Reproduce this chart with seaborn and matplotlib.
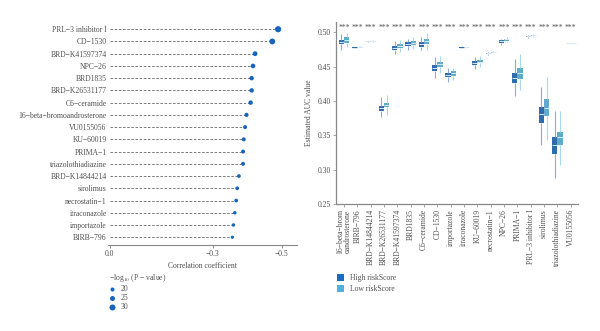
import numpy as np
import pandas as pd
import matplotlib
matplotlib.use("Agg")
import matplotlib.pyplot as plt
import seaborn as sns
from matplotlib.lines import Line2D
from matplotlib.patches import Patch

# ---------------- Left panel data ----------------
drugs_left = ["PRL\u22123 inhibitor I", "CD\u22121530", "BRD\u2212K41597374", "NPC\u221226",
              "BRD1835", "BRD\u2212K26531177", "C6\u2212ceramide", "16\u2212beta\u2212bromoandrosterone",
              "VU0155056", "KU\u221260019", "PRIMA\u22121", "triazolothiadiazine",
              "BRD\u2212K14844214", "sirolimus", "necrostatin\u22121", "itraconazole",
              "importazole", "BIRB\u2212796"]
corr = [-0.490, -0.473, -0.423, -0.417, -0.413, -0.413, -0.410, -0.398,
        -0.394, -0.390, -0.388, -0.388, -0.376, -0.371, -0.368, -0.364, -0.360, -0.357]
logp = [31, 29, 23, 22, 21, 21, 21, 20, 19, 19, 19, 19, 18, 18, 18, 17, 17, 16]
size_legend = [20, 25, 30]

# ---------------- Right panel data ----------------
drugs_right = ["16\u2212beta\u2212brom\noandrosterone", "BIRB\u2212796", "BRD\u2212K14844214",
               "BRD\u2212K26531177", "BRD\u2212K41597374", "BRD1835", "C6\u2212ceramide",
               "CD\u22121530", "importazole", "itraconazole", "KU\u221260019", "necrostatin\u22121",
               "NPC\u221226", "PRIMA\u22121", "PRL\u22123 inhibitor I", "sirolimus",
               "triazolothiadiazine", "VU0155056"]
groups = ["High riskScore", "Low riskScore"]
# five-number summaries: [min, q1, median, q3, max]
high_stats = [
    [0.474, 0.4826, 0.4855, 0.4888, 0.497],
    [0.4765, 0.4770, 0.4776, 0.4782, 0.479],
    [0.4860, 0.4865, 0.4869, 0.4873, 0.4878],
    [0.3765, 0.3855, 0.3895, 0.3927, 0.4064],
    [0.468, 0.4743, 0.4774, 0.4801, 0.4864],
    [0.474, 0.4797, 0.4826, 0.4855, 0.4904],
    [0.4733, 0.479, 0.4826, 0.4855, 0.4927],
    [0.434, 0.4442, 0.448, 0.4525, 0.4636],
    [0.4273, 0.4346, 0.4374, 0.4404, 0.4477],
    [0.4768, 0.4772, 0.4776, 0.4780, 0.4784],
    [0.446, 0.4525, 0.4554, 0.4583, 0.4636],
    [0.4670, 0.4682, 0.4690, 0.4698, 0.4710],
    [0.4820, 0.4845, 0.4864, 0.4884, 0.4905],
    [0.4074, 0.4259, 0.4331, 0.4413, 0.4608],
    [0.4920, 0.4932, 0.4940, 0.4948, 0.4960],
    [0.336, 0.3686, 0.3808, 0.3919, 0.420],
    [0.2887, 0.3231, 0.3362, 0.3483, 0.3856],
    [0.4842, 0.4843, 0.4844, 0.4845, 0.4846],
]
low_stats = [
    [0.478, 0.4849, 0.4888, 0.4922, 0.4985],
    [0.4770, 0.4775, 0.4780, 0.4785, 0.4792],
    [0.4862, 0.4867, 0.4871, 0.4875, 0.4880],
    [0.3798, 0.391, 0.3943, 0.3977, 0.409],
    [0.471, 0.4767, 0.4801, 0.4825, 0.488],
    [0.4756, 0.481, 0.4845, 0.4874, 0.4927],
    [0.4733, 0.4821, 0.4864, 0.490, 0.498],
    [0.4412, 0.450, 0.4536, 0.4573, 0.4647],
    [0.431, 0.4365, 0.4404, 0.4428, 0.4477],
    [0.4770, 0.4774, 0.4778, 0.4782, 0.4786],
    [0.450, 0.4545, 0.4573, 0.460, 0.4647],
    [0.4690, 0.4702, 0.4710, 0.4718, 0.4730],
    [0.4850, 0.4878, 0.4893, 0.4905, 0.4925],
    [0.416, 0.4317, 0.440, 0.4477, 0.468],
    [0.4935, 0.4947, 0.4955, 0.4962, 0.4975],
    [0.3434, 0.3784, 0.3895, 0.403, 0.4355],
    [0.307, 0.3362, 0.3474, 0.3556, 0.3856],
    [0.4841, 0.4843, 0.4845, 0.4847, 0.4849],
]
signif = ["***"] * len(drugs_right)

# ---------------- Styling ----------------
sns.set_theme(style="white")
plt.rcParams["font.family"] = ["Liberation Serif", "DejaVu Serif"]
plt.rcParams["mathtext.fontset"] = "stix"
FS = 5.5
TXT = "#505050"
dot_color = "#1565c0"
pal = {"High riskScore": "#1b6cbf", "Low riskScore": "#4fb1dc"}
whisk = {"High riskScore": "#8aa9dc", "Low riskScore": "#a6d8ef"}
MED = "#d6e9f7"

fig = plt.figure(figsize=(6.0, 3.31), dpi=100)

# ---------------- Left: lollipop ----------------
axL = fig.add_axes([0.18, 0.26, 0.315, 0.675])
dfL = pd.DataFrame({"drug": drugs_left, "corr": corr, "logp": logp})
ypos = np.arange(len(drugs_left))
axL.hlines(ypos, 0, dfL["corr"], colors="#666666", linestyles=(0, (3, 2)), linewidth=0.6)

def s_of(v):
    d_px = 4 + (v - 20) * 0.2
    return (d_px * 0.72) ** 2

smin, smax = min(logp), max(logp)
sns.scatterplot(data=dfL, x="corr", y="drug", size="logp",
                sizes=(s_of(smin), s_of(smax)), size_norm=(smin, smax),
                color=dot_color, edgecolor="none", legend=False, ax=axL, zorder=3)
axL.set_xlim(0.005, -0.545)
axL.set_ylim(len(drugs_left) - 0.37, -0.63)
axL.set_xticks([0.0, -0.3, -0.5])
axL.set_xticklabels(["0.0", "\u22120.3", "\u22120.5"], fontsize=FS, color=TXT)
axL.tick_params(axis="x", length=2, width=0.5, color="#666666", pad=1.5, bottom=True)
axL.tick_params(axis="y", length=0, labelsize=FS, labelcolor=TXT, pad=1)
axL.set_ylabel("")
axL.set_xlabel("Correlation coefficient", fontsize=FS, color=TXT, labelpad=3)
for sp in ["top", "right", "left"]:
    axL.spines[sp].set_visible(False)
axL.spines["bottom"].set_color("#888888")
axL.spines["bottom"].set_linewidth(0.8)

size_handles = [Line2D([], [], marker="o", linestyle="", color=dot_color,
                       markeredgewidth=0, markersize=np.sqrt(s_of(v))) for v in size_legend]
legL = fig.legend(size_handles, [str(v) for v in size_legend],
                  title="\u2212log$_{10}$ (P \u2212 value)", loc="upper left",
                  bbox_to_anchor=(0.172, 0.193), frameon=False, fontsize=FS,
                  title_fontsize=FS, handlelength=1.0, handletextpad=0.6,
                  labelspacing=0.12, borderpad=0.2)
legL._legend_box.align = "left"
for t in legL.get_texts():
    t.set_color(TXT)
legL.get_title().set_color(TXT)

# ---------------- Right: boxplots ----------------
axR = fig.add_axes([0.5595, 0.383, 0.404, 0.552])
rows = []
for i, d in enumerate(drugs_right):
    for g, st in zip(groups, [high_stats[i], low_stats[i]]):
        for v in st:
            rows.append({"drug": d, "group": g, "auc": v})
dfR = pd.DataFrame(rows)
sns.boxplot(data=dfR, x="drug", y="auc", hue="group", order=drugs_right,
            hue_order=groups, palette=pal, whis=(0, 100), width=0.78, gap=0.0,
            linewidth=0.8, showcaps=False, fliersize=0, legend=False, ax=axR,
            boxprops=dict(edgecolor="none"),
            medianprops=dict(color=MED, linewidth=0.7))
lines = axR.lines
k = 0
per = len(lines) // (2 * len(drugs_right)) if len(lines) else 0
for gi, g in enumerate(groups):
    for di in range(len(drugs_right)):
        for j in range(per):
            ln = lines[k]
            if ln.get_color() != MED and ln.get_linestyle() != "None":
                ln.set_color(whisk[g])
            k += 1

for i, s in enumerate(signif):
    axR.text(i, 0.5058, s, ha="center", va="center", fontsize=FS, color="#555555")

axR.set_ylim(0.25, 0.5154)
axR.set_xlim(-0.62, len(drugs_right) - 0.45)
axR.set_yticks([0.25, 0.30, 0.35, 0.40, 0.45, 0.50])
axR.set_yticklabels(["0.25", "0.30", "0.35", "0.40", "0.45", "0.50"], fontsize=FS, color=TXT)
axR.set_xticks(range(len(drugs_right)))
axR.set_xticklabels(drugs_right, rotation=90, fontsize=FS, color=TXT, linespacing=0.95)
axR.tick_params(axis="both", length=2, width=0.5, color="#888888", pad=1.5, bottom=True, left=True)
axR.set_xlabel("")
axR.set_ylabel("Estimated AUC value", fontsize=FS, color=TXT, labelpad=3)
for sp in ["top", "right"]:
    axR.spines[sp].set_visible(False)
for sp in ["left", "bottom"]:
    axR.spines[sp].set_color("#888888")
    axR.spines[sp].set_linewidth(0.9)

box_handles = [Patch(facecolor=pal[g], edgecolor="none") for g in groups]
legR = fig.legend(box_handles, groups, loc="upper left", bbox_to_anchor=(0.552, 0.187),
                  frameon=False, fontsize=FS, handlelength=1.0, handleheight=1.0,
                  handletextpad=0.8, labelspacing=0.3, borderpad=0.2)
for t in legR.get_texts():
    t.set_color(TXT)

fig.savefig("out.png", dpi=100)
